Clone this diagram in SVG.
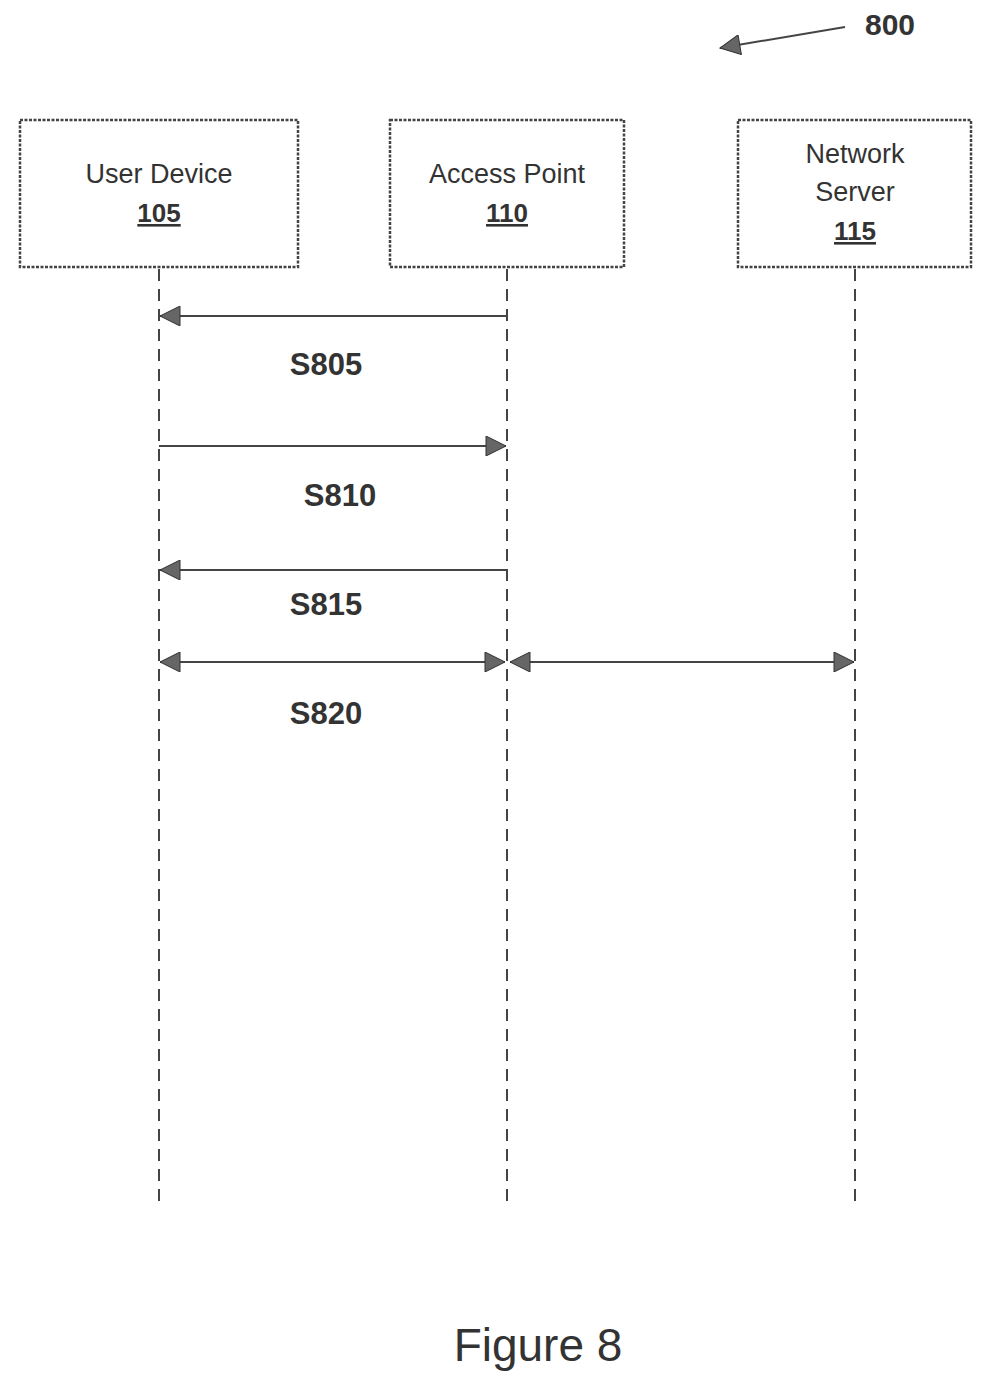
<svg xmlns="http://www.w3.org/2000/svg" width="992" height="1382" viewBox="0 0 992 1382">
<style>
.box{fill:#fff;stroke:#444;stroke-width:2.5;stroke-dasharray:3 1.5}
.life{stroke:#444;stroke-width:2;stroke-dasharray:12 8;fill:none}
.msg{stroke:#444;stroke-width:2;fill:none}
.t{font-family:"Liberation Sans",Arial,sans-serif;font-size:27px;fill:#333;text-anchor:middle}
.u{text-decoration:underline;font-weight:bold;font-size:26px}
.lbl{font-family:"Liberation Sans",Arial,sans-serif;font-size:31px;font-weight:bold;fill:#333;text-anchor:middle}
</style>
<defs>
<marker id="ah" viewBox="0 0 10 10" refX="10" refY="5" markerWidth="30" markerHeight="20" markerUnits="userSpaceOnUse" orient="auto-start-reverse">
<path d="M0,0 L10,5 L0,10 Z" fill="#666" stroke="#333" stroke-width="0.5"/>
</marker>
</defs>
<g id="user-device"><rect class="box" x="20" y="120" width="278" height="147"/>
<text class="t" x="159" y="183">User Device</text><text class="t u" x="159" y="222">105</text></g>
<g id="access-point"><rect class="box" x="390" y="120" width="234" height="147"/>
<text class="t" x="507" y="183">Access Point</text><text class="t u" x="507" y="222">110</text></g>
<g id="network-server"><rect class="box" x="738" y="120" width="233" height="147"/>
<text class="t" x="855" y="163">Network</text><text class="t" x="855" y="201">Server</text><text class="t u" x="855" y="240">115</text></g>
<g id="connectors">
<line class="life" x1="159" y1="269" x2="159" y2="1205"/>
<line class="life" x1="507" y1="269" x2="507" y2="1205"/>
<line class="life" x1="855" y1="269" x2="855" y2="1205"/>
<line class="msg" x1="507" y1="316" x2="160" y2="316" marker-end="url(#ah)"/>
<line class="msg" x1="159" y1="446" x2="506" y2="446" marker-end="url(#ah)"/>
<line class="msg" x1="507" y1="570" x2="160" y2="570" marker-end="url(#ah)"/>
<line class="msg" x1="160" y1="662" x2="505" y2="662" marker-start="url(#ah)" marker-end="url(#ah)"/>
<line class="msg" x1="510" y1="662" x2="854" y2="662" marker-start="url(#ah)" marker-end="url(#ah)"/>
<line class="msg" x1="845" y1="27" x2="720" y2="48" marker-end="url(#ah)"/>
</g>
<text class="lbl" x="326" y="375">S805</text>
<text class="lbl" x="340" y="506">S810</text>
<text class="lbl" x="326" y="615">S815</text>
<text class="lbl" x="326" y="724">S820</text>
<text class="lbl" x="890" y="35" style="font-size:30px">800</text>
<text x="538" y="1361" style="font-family:'Liberation Sans',Arial,sans-serif;font-size:46px;fill:#333;text-anchor:middle">Figure 8</text>
</svg>
